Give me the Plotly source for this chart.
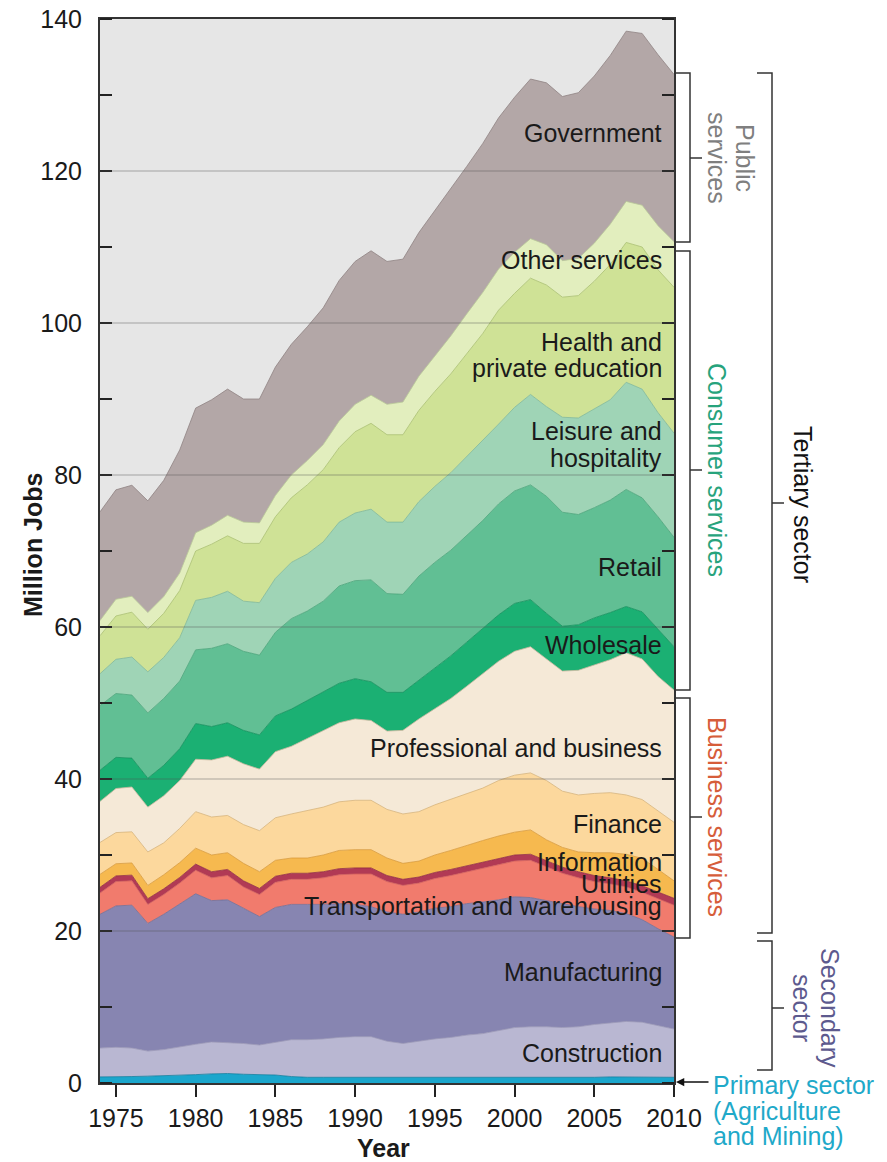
import plotly.graph_objects as go

years = list(range(1974, 2011))

primary = [0.8, 0.8, 0.85, 0.9, 0.95, 1.0, 1.1, 1.2, 1.25, 1.15, 1.1, 1.05,
           0.85, 0.75, 0.75, 0.75, 0.75, 0.75, 0.7, 0.7, 0.7, 0.7, 0.7, 0.7,
           0.7, 0.7, 0.7, 0.7, 0.7, 0.7, 0.7, 0.75, 0.8, 0.8, 0.8, 0.75, 0.75]
construction = [3.8, 3.9, 3.75, 3.3, 3.45, 3.8, 4.0, 4.2, 4.05, 4.05, 3.9, 4.35,
                4.85, 4.95, 5.05, 5.25, 5.35, 5.35, 4.8, 4.5, 4.8, 5.1, 5.3, 5.6,
                5.8, 6.2, 6.6, 6.7, 6.7, 6.6, 6.7, 6.95, 7.1, 7.3, 7.2, 6.85, 6.35]
manufacturing = [17.6, 18.6, 18.8, 16.8, 17.8, 18.7, 19.8, 18.6, 18.8, 17.8, 16.9, 17.7,
                 17.8, 17.8, 17.7, 17.6, 17.4, 17.1, 17.0, 17.0, 17.0, 17.2, 17.2, 17.3,
                 17.3, 17.2, 17.2, 17.0, 16.6, 16.3, 15.8, 15.2, 14.8, 14.2, 13.5, 12.7, 12.1]
transportation = [2.8, 3.2, 3.2, 2.5, 2.6, 2.8, 3.1, 3.0, 3.2, 2.8, 2.9, 3.3,
                  3.3, 3.3, 3.5, 3.8, 4.0, 4.3, 4.0, 3.8, 3.8, 3.9, 4.1, 4.2,
                  4.5, 4.7, 4.7, 4.9, 4.5, 4.0, 3.8, 3.6, 3.5, 3.5, 3.6, 3.9, 4.2]
utilities = [0.75, 0.75, 0.75, 0.75, 0.75, 0.75, 0.8, 0.8, 0.8, 0.8, 0.8, 0.8,
             0.8, 0.8, 0.8, 0.8, 0.8, 0.8, 0.8, 0.8, 0.8, 0.8, 0.8, 0.8,
             0.8, 0.8, 0.8, 0.8, 0.8, 0.8, 0.8, 0.8, 0.8, 0.8, 0.85, 0.9, 0.9]
information = [1.7, 1.6, 1.6, 1.75, 1.85, 1.95, 2.1, 2.2, 2.2, 2.3, 2.2, 2.1,
               2.0, 2.0, 2.2, 2.4, 2.4, 2.4, 2.3, 2.1, 2.1, 2.3, 2.5, 2.7,
               2.8, 2.9, 3.0, 3.2, 2.7, 2.6, 2.6, 3.0, 3.3, 3.5, 3.6, 3.0, 2.3]
finance = [4.2, 4.1, 4.1, 4.4, 4.2, 4.5, 4.8, 5.0, 4.9, 5.1, 5.4, 5.6,
           5.8, 6.2, 6.3, 6.4, 6.5, 6.5, 6.4, 6.5, 6.5, 6.6, 6.7, 6.7,
           6.9, 7.3, 7.5, 7.5, 7.8, 7.4, 7.5, 7.8, 7.9, 7.8, 7.75, 7.7, 7.7]
professional = [5.4, 5.8, 5.9, 5.9, 6.2, 6.3, 6.9, 7.5, 7.8, 8.0, 8.1, 8.7,
                8.9, 9.5, 10.0, 10.4, 10.7, 10.5, 10.3, 11.0, 12.2, 12.7, 13.3, 14.2,
                15.0, 15.7, 16.3, 16.6, 16.0, 15.8, 16.4, 16.9, 17.5, 18.7, 18.5, 17.7, 17.4]
wholesale = [4.1, 4.1, 3.8, 3.8, 4.0, 4.2, 4.7, 4.4, 4.4, 4.4, 4.5, 4.7,
             4.9, 5.0, 5.1, 5.2, 5.3, 5.1, 5.1, 5.0, 5.1, 5.3, 5.6, 5.8,
             6.0, 6.1, 6.3, 6.2, 6.0, 5.9, 6.0, 6.2, 6.2, 6.1, 6.2, 6.2, 5.7]
retail = [8.5, 8.4, 8.3, 8.6, 8.8, 8.9, 9.7, 10.3, 10.4, 10.4, 10.5, 11.0,
          11.9, 11.8, 12.0, 12.8, 12.9, 13.4, 13.0, 12.9, 13.7, 13.9, 13.9, 14.0,
          14.2, 14.6, 14.8, 15.1, 15.4, 15.0, 14.5, 14.5, 14.8, 15.4, 15.0, 14.8, 14.4]
leisure = [4.2, 4.5, 5.0, 5.4, 5.4, 5.7, 6.5, 6.7, 6.9, 6.6, 6.9, 7.1,
           7.4, 7.5, 7.8, 8.4, 8.9, 9.3, 9.4, 9.5, 9.8, 10.0, 10.2, 10.4,
           10.5, 10.5, 11.0, 11.9, 11.8, 12.5, 12.7, 13.0, 13.2, 14.1, 14.3, 13.7, 13.7]
health = [5.0, 5.7, 5.9, 5.6, 5.8, 6.2, 6.5, 7.0, 7.3, 7.6, 7.8, 8.1,
          8.5, 9.1, 9.5, 9.8, 10.7, 11.3, 11.5, 11.5, 12.0, 12.5, 13.0, 13.6,
          14.1, 15.0, 15.0, 15.3, 16.0, 15.8, 16.1, 16.8, 17.8, 18.4, 18.7, 18.8, 19.2]
other_services = [2.0, 2.2, 2.1, 2.2, 2.2, 2.3, 2.4, 2.5, 2.7, 2.8, 2.7, 2.8,
                  3.0, 3.2, 3.3, 3.5, 3.6, 3.7, 4.0, 4.3, 4.5, 4.7, 5.0, 5.2,
                  5.4, 5.4, 5.4, 5.2, 5.3, 4.8, 4.9, 5.0, 5.3, 5.4, 5.5, 5.8, 6.0]
government = [14.3, 14.4, 14.6, 14.7, 15.3, 16.2, 16.4, 16.5, 16.6, 16.2, 16.3, 16.9,
              17.2, 17.6, 18.0, 18.5, 18.8, 19.0, 18.8, 18.8, 18.9, 19.1, 19.3, 19.4,
              19.6, 19.9, 20.4, 21.0, 21.3, 21.6, 21.8, 22.0, 22.2, 22.4, 22.6, 22.5, 22.0]

series = [
    ("Primary sector", primary, "#1ba6cc", "#0f7e9e"),
    ("Construction", construction, "#b9b7d2", "#9a98b8"),
    ("Manufacturing", manufacturing, "#8785b1", "#6f6d98"),
    ("Transportation and warehousing", transportation, "#f17b6d", "#d4605a"),
    ("Utilities", utilities, "#b13a55", "#922b43"),
    ("Information", information, "#f6b94f", "#d99b3a"),
    ("Finance", finance, "#fcd89d", "#d8b478"),
    ("Professional and business", professional, "#f5e9d7", "#cbb99e"),
    ("Wholesale", wholesale, "#1bb073", "#12915c"),
    ("Retail", retail, "#61bf94", "#4aa47a"),
    ("Leisure and hospitality", leisure, "#9fd4b6", "#7db899"),
    ("Health and private education", health, "#cfe296", "#a9c06f"),
    ("Other services", other_services, "#e2eebe", "#b9c996"),
    ("Government", government, "#b3a7a7", "#8f8383"),
]

x_ticks = [1975, 1980, 1985, 1990, 1995, 2000, 2005, 2010]
y_ticks = [0, 20, 40, 60, 80, 100, 120, 140]
grid_vals = [20, 40, 60, 80, 100, 120]

FONT = "Liberation Sans, Arial, Helvetica, sans-serif"
# page is shown with the browser's default 8px body margin
OFF = 8
W, H = 887 - OFF, 1162 - OFF
PL, PR, PT, PB = 100, 674, 19, 1083   # plot box in page pixels


def px(x):
    return (x - PL) / (PR - PL)


def py(y):
    return (PB - y) / (PB - PT)


fig = go.Figure()
for name, vals, fill, edge in series:
    fig.add_trace(go.Scatter(
        x=years, y=vals, name=name, stackgroup="one", mode="lines",
        line=dict(width=0.8, color=edge), fillcolor=fill, hoverinfo="skip",
    ))

shapes = []
for g in grid_vals:
    shapes.append(dict(type="line", xref="paper", x0=0, x1=1, yref="y", y0=g, y1=g,
                       line=dict(color="rgba(80,80,80,0.45)", width=1), layer="above"))

BR = "#333333"


def bracket_right(x_in, x_out, y0, y1, ymid, tick_end):
    return [
        dict(type="path", xref="paper", yref="paper",
             path=f"M {px(x_in)},{py(y0)} L {px(x_out)},{py(y0)} L {px(x_out)},{py(y1)} L {px(x_in)},{py(y1)}",
             line=dict(color=BR, width=1.5)),
        dict(type="line", xref="paper", yref="paper",
             x0=px(x_out), x1=px(tick_end), y0=py(ymid), y1=py(ymid),
             line=dict(color=BR, width=1.5)),
    ]


shapes += bracket_right(674, 690, 73, 242, 158, 702)
shapes += bracket_right(674, 690, 251, 690, 470, 702)
shapes += bracket_right(674, 690, 698, 938, 817, 702)
shapes += bracket_right(757, 772, 73, 933, 503, 784)
shapes += bracket_right(757, 772, 941, 1070, 1008, 784)

TXT = "#1a1a1a"
FS = 25
annotations = []


def inlabel(text, ycen):
    annotations.append(dict(text=text, xref="paper", yref="paper", x=px(664), y=py(ycen),
                            xanchor="right", yanchor="middle", showarrow=False,
                            font=dict(size=FS, color=TXT, family=FONT)))


inlabel("Government", 133)
inlabel("Other services", 260)
inlabel("Health and", 342)
inlabel("private education", 368)
inlabel("Leisure and", 431)
inlabel("hospitality", 458)
inlabel("Retail", 567)
inlabel("Wholesale", 645)
inlabel("Professional and business", 748)
inlabel("Finance", 824)
inlabel("Information", 862)
inlabel("Utilities", 884)
inlabel("Transportation and warehousing", 906)
inlabel("Manufacturing", 972)
inlabel("Construction", 1053)


def vlabel(text, xc, yc, color):
    annotations.append(dict(text=text, xref="paper", yref="paper", x=px(xc), y=py(yc),
                            xanchor="center", yanchor="middle", textangle=90, showarrow=False,
                            font=dict(size=FS, color=color, family=FONT)))


vlabel("Public", 745, 158, "#7f7f7f")
vlabel("services", 717, 158, "#7f7f7f")
vlabel("Consumer services", 717, 470, "#27a37c")
vlabel("Business services", 717, 817, "#d65d3a")
vlabel("Tertiary sector", 803, 504, "#111111")
vlabel("Secondary", 830, 1008, "#5d5a8e")
vlabel("sector", 802, 1008, "#5d5a8e")

for t, yc in [("Primary sector", 1085), ("(Agriculture", 1111), ("and Mining)", 1136)]:
    annotations.append(dict(text=t, xref="paper", yref="paper", x=px(711), y=py(yc),
                            xanchor="left", yanchor="middle", showarrow=False,
                            font=dict(size=FS, color="#1fa9c9", family=FONT)))

annotations.append(dict(text="", xref="paper", yref="paper", x=px(676), y=py(1082),
                        ax=34, ay=0, showarrow=True, arrowhead=2, arrowsize=1.1,
                        arrowwidth=1.5, arrowcolor="#111111"))

annotations.append(dict(text="<b>Million Jobs</b>", xref="paper", yref="paper", x=px(33), y=py(545),
                        textangle=-90, showarrow=False, xanchor="center", yanchor="middle",
                        font=dict(size=FS, color=TXT, family=FONT)))
annotations.append(dict(text="<b>Year</b>", xref="paper", yref="paper", x=px(383), y=py(1148),
                        showarrow=False, xanchor="center", yanchor="middle",
                        font=dict(size=FS, color=TXT, family=FONT)))

fig.update_layout(
    width=W, height=H,
    margin=dict(l=PL - OFF, r=(W + OFF) - PR, t=PT - OFF, b=(H + OFF) - PB, autoexpand=False),
    paper_bgcolor="white", plot_bgcolor="#e6e6e6",
    showlegend=False,
    font=dict(family=FONT, size=FS, color=TXT),
    shapes=shapes, annotations=annotations,
    xaxis=dict(range=[1974, 2010], tickvals=x_ticks, ticktext=[str(v) for v in x_ticks],
               ticks="outside", ticklen=12, tickwidth=1.5, tickcolor="#222",
               showgrid=False, zeroline=False, showline=True, linecolor="#333", linewidth=2,
               mirror=True, ticklabelstandoff=0, automargin=False,
               ticklabeloverflow="allow", tickfont=dict(size=FS, color=TXT)),
    yaxis=dict(range=[0, 140], tickvals=y_ticks, ticks="", showgrid=False, zeroline=False,
               showline=True, linecolor="#333", linewidth=2, mirror="ticks",
               ticklabelstandoff=11, automargin=False, ticklabeloverflow="allow",
               tickfont=dict(size=FS, color=TXT),
               minor=dict(dtick=10, tick0=0, ticks="inside", ticklen=12, tickwidth=1.5,
                          tickcolor="#222", showgrid=False)),
)

fig.write_html("out.html")
